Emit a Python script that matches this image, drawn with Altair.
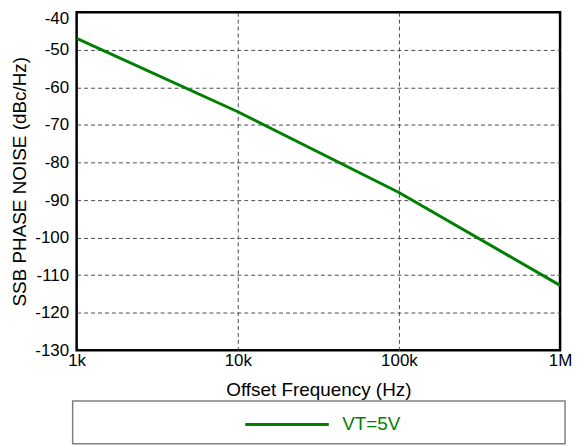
import altair as alt
import pandas as pd

# data
freq_hz = [1000, 10000, 100000, 1000000]
noise_dbc = [-47.0, -66.5, -88.0, -112.7]
series_name = "VT=5V"

x_tick_values = [1000, 10000, 100000, 1000000]
x_tick_labels = ["1k", "10k", "100k", "1M"]
y_tick_values = [-130, -120, -110, -100, -90, -80, -70, -60, -50, -40]

FONT = "Liberation Sans"
GREEN = "#008000"

df = pd.DataFrame({"freq": freq_hz, "noise": noise_dbc, "series": [series_name] * len(freq_hz)})

label_expr = "''"
for v, t in reversed(list(zip(x_tick_values, x_tick_labels))):
    label_expr = f"datum.value == {v} ? '{t}' : ({label_expr})"

x_edge = f"datum.value == {x_tick_values[0]} || datum.value == {x_tick_values[-1]}"
y_edge = f"datum.value == {y_tick_values[0]} || datum.value == {y_tick_values[-1]}"
y_top = f"datum.value == {y_tick_values[-1]}"

line = alt.Chart(df).mark_line(strokeWidth=3, clip=True).encode(
    x=alt.X(
        "freq:Q",
        scale=alt.Scale(type="log", domain=[x_tick_values[0], x_tick_values[-1]], nice=False),
        axis=alt.Axis(
            values=x_tick_values,
            labelExpr=label_expr,
            title="Offset Frequency (Hz)",
            domain=False,
            ticks=False,
            labelPadding=2,
            titlePadding=12,
            labelFlush=False,
            labelFontSize=17,
            titleFontSize=19,
            labelFont=FONT,
            titleFont=FONT,
            titleFontWeight="normal",
            labelColor="#000",
            titleColor="#000",
            grid=True,
            gridDash=[4, 3],
            gridColor="#4d4d4d",
            gridWidth=1,
            gridOpacity={"condition": {"test": x_edge, "value": 0}, "value": 1},
        ),
    ),
    y=alt.Y(
        "noise:Q",
        scale=alt.Scale(domain=[y_tick_values[0], y_tick_values[-1]], nice=False),
        axis=alt.Axis(
            values=y_tick_values,
            labelExpr="'' + datum.value",
            title="SSB PHASE NOISE (dBc/Hz)",
            domain=False,
            ticks=False,
            labelPadding=8,
            labelOffset={"condition": {"test": y_top, "value": 6}, "value": 0},
            titlePadding=5,
            labelFontSize=17,
            titleFontSize=19,
            labelFont=FONT,
            titleFont=FONT,
            titleFontWeight="normal",
            labelColor="#000",
            titleColor="#000",
            grid=True,
            gridDash=[4, 3],
            gridColor="#4d4d4d",
            gridWidth=1,
            gridOpacity={"condition": {"test": y_edge, "value": 0}, "value": 1},
        ),
    ),
    color=alt.Color(
        "series:N",
        scale=alt.Scale(domain=[series_name], range=[GREEN]),
        legend=alt.Legend(
            orient="none",
            legendX=168,
            legendY=371,
            title=None,
            symbolType="stroke",
            symbolSize=7056,
            symbolStrokeWidth=3,
            labelFontSize=19,
            labelFont=FONT,
            labelColor=GREEN,
            labelOffset=12,
            padding=0,
        ),
    ),
)

legend_box = alt.Chart(pd.DataFrame({"k": [0]})).mark_rect(
    fill="white", fillOpacity=0, stroke="#808080", strokeWidth=1.5
).encode(
    x=alt.value(-4), x2=alt.value(491), y=alt.value(391), y2=alt.value(434)
)

chart = alt.layer(legend_box, line).properties(
    width=486,
    height=340,
    autosize=alt.AutoSizeParams(type="none"),
    padding={"left": 69, "top": 3, "right": 14, "bottom": 95},
).configure_view(stroke="#000", strokeWidth=2.5)

chart.save("out.html", embed_options={"renderer": "svg", "actions": False})
